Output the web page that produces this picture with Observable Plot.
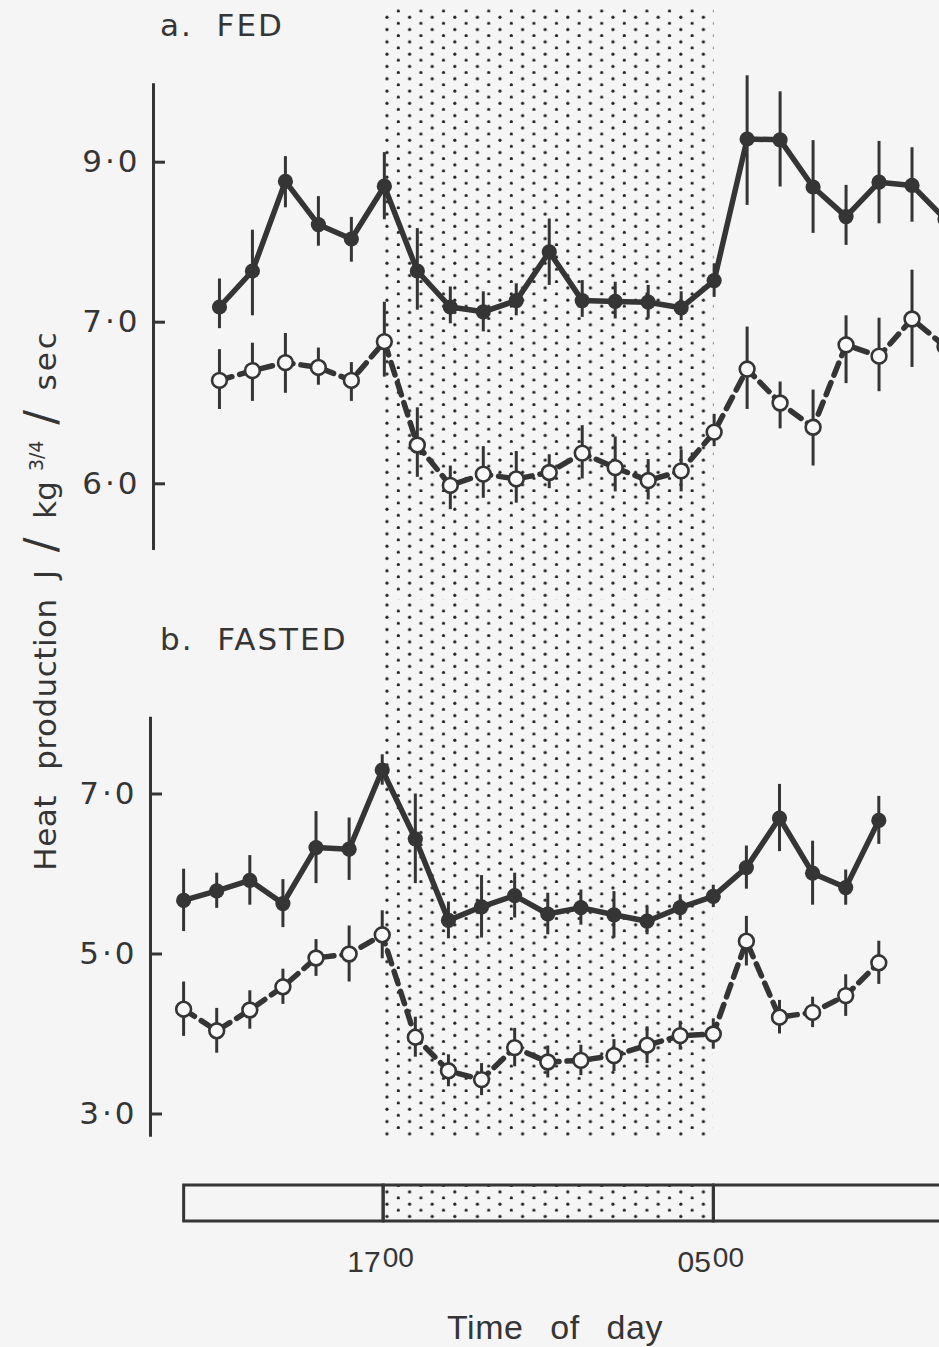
<!DOCTYPE html>
<html>
<head>
<meta charset="utf-8">
<script src="https://cdn.jsdelivr.net/npm/d3@7"></script>
<script src="https://cdn.jsdelivr.net/npm/@observablehq/plot@0.6"></script>
<style>
  body { margin: 0; background: #f5f5f5; }
  #fig { position: relative; width: 939px; height: 1347px; overflow: hidden; background: #f5f5f5; color: #353535; font-family: "DejaVu Sans", sans-serif; }
  #fig svg.plotsvg { position: absolute; left: 0; }
  .txt { position: absolute; white-space: pre; line-height: 30px; }
  .ptitle { font-size: 31px; letter-spacing: 2px; }
  #ylab { left: 40px; top: 597px; font-size: 31px; letter-spacing: 0.5px; word-spacing: 15px; transform: translate(-50%, -50%) rotate(-90deg); line-height: 44px; }
  #ylab .pc { display: inline-block; text-align: center; letter-spacing: 0; word-spacing: 0; }
  #ylab .sl { font-size: 44px; }
  #ylab .fr { font-size: 19px; vertical-align: 13px; }
  #ylab .sec { letter-spacing: 3px; }
  #xlab { left: 555px; top: 1310px; transform: translateX(-50%); font-family: "Liberation Sans", sans-serif; font-size: 34px; line-height: 34px; word-spacing: 17px; letter-spacing: 0.5px; }
</style>
</head>
<body>
<svg width="0" height="0" style="position:absolute">
  <defs>
    <pattern id="stipple" patternUnits="userSpaceOnUse" width="22.6" height="12.3">
      <circle cx="2.8" cy="5" r="1.6" fill="#222"></circle>
      <circle cx="14.1" cy="11.15" r="1.6" fill="#222"></circle>
    </pattern>
  </defs>
</svg>
<div id="fig">
  <div class="txt ptitle" style="left:160px;top:10px">a.  FED</div>
  <div class="txt ptitle" style="left:160px;top:624px">b.  FASTED</div>
  <div class="txt" id="ylab">Heat production<span class="pc" style="width:22px;margin-left:13px">J</span><span class="pc sl" style="width:37px">/</span><span class="pc" style="width:53px">kg</span><span class="pc fr" style="width:35px">3/4</span><span class="pc sl" style="width:42px">/</span><span class="pc sec" style="width:73px">sec</span></div>
  <div class="txt" id="xlab">Time of day</div>
</div>
<script>
// ---------- data ----------
// time of each sample, hours from midnight of the first day (24+ = next morning)
const aTimes = [11.0, 12.2, 13.4, 14.6, 15.8, 17.0, 18.2, 19.4, 20.6, 21.8, 23.0, 24.2, 25.4, 26.6, 27.8, 29.0, 30.2, 31.4, 32.6, 33.8, 35.0, 36.2, 37.4];
const bTimes = [9.8, 11.0, 12.2, 13.4, 14.6, 15.8, 17.0, 18.2, 19.4, 20.6, 21.8, 23.0, 24.2, 25.4, 26.6, 27.8, 29.0, 30.2, 31.4, 32.6, 33.8, 35.0];

// a. FED — filled circles (solid line)
const aFilled   = [7.19, 7.64, 8.76, 8.22, 8.04, 8.70, 7.64, 7.19, 7.13, 7.27, 7.88, 7.27, 7.26, 7.25, 7.18, 7.52, 9.29, 9.28, 8.69, 8.32, 8.75, 8.71, 8.29];
const aFilledLo = [6.96, 7.08, 8.43, 7.95, 7.75, 8.28, 7.15, 6.99, 6.94, 7.08, 7.46, 7.06, 7.04, 7.04, 7.02, 7.31, 8.46, 8.69, 8.11, 7.96, 8.23, 8.25, 7.90];
const aFilledHi = [7.54, 8.15, 9.07, 8.57, 8.31, 9.12, 8.17, 7.44, 7.38, 7.48, 8.29, 7.52, 7.50, 7.46, 7.38, 7.73, 10.08, 9.88, 9.27, 8.71, 9.26, 9.18, 8.70];
// a. FED — open circles (dashed line)
const aOpen   = [6.64, 6.70, 6.75, 6.72, 6.64, 6.88, 6.24, 5.99, 6.06, 6.03, 6.07, 6.19, 6.10, 6.02, 6.08, 6.32, 6.71, 6.50, 6.35, 6.86, 6.79, 7.04, 6.85];
const aOpenLo = [6.46, 6.51, 6.56, 6.61, 6.51, 6.66, 6.04, 5.84, 5.91, 5.88, 5.97, 6.03, 5.95, 5.90, 5.95, 6.23, 6.46, 6.34, 6.11, 6.62, 6.57, 6.72, 6.65];
const aOpenHi = [6.83, 6.87, 6.93, 6.84, 6.75, 7.25, 6.47, 6.11, 6.23, 6.20, 6.18, 6.36, 6.29, 6.15, 6.21, 6.43, 6.97, 6.63, 6.58, 7.08, 7.05, 7.65, 7.05];

// b. FASTED — filled circles (solid line) with ± error
const bFilled   = [5.67, 5.79, 5.92, 5.63, 6.33, 6.31, 7.30, 6.44, 5.42, 5.59, 5.73, 5.50, 5.58, 5.49, 5.41, 5.58, 5.72, 6.08, 6.70, 6.01, 5.83, 6.67];
const bFilledSe = [0.39, 0.22, 0.31, 0.30, 0.45, 0.39, 0.19, 0.56, 0.23, 0.39, 0.28, 0.26, 0.22, 0.29, 0.17, 0.16, 0.14, 0.27, 0.42, 0.40, 0.22, 0.30];
// b. FASTED — open circles (dashed line)
const bOpen   = [4.31, 4.04, 4.30, 4.59, 4.95, 5.00, 5.24, 3.96, 3.54, 3.43, 3.83, 3.65, 3.67, 3.73, 3.86, 3.98, 4.00, 5.16, 4.21, 4.27, 4.48, 4.89];
const bOpenSe = [0.34, 0.28, 0.24, 0.22, 0.23, 0.35, 0.30, 0.25, 0.20, 0.20, 0.24, 0.20, 0.19, 0.20, 0.23, 0.18, 0.19, 0.31, 0.21, 0.19, 0.26, 0.27];

// axis ticks & labels
const aTicks = [9, 7, 6];
const aTickLabels = ["9·0", "7·0", "6·0"];
const bTicks = [7, 5, 3];
const bTickLabels = ["7·0", "5·0", "3·0"];

// dark period (lights off) and the time bar
const nightStart = [17];
const nightEnd = [29];
const barStarts = [9.75, 17, 29];
const barEnds = [17, 29, 41];
const edgeTimes = [17, 29];
const edgeHours = ["17", "05"];
const edgeMinutes = ["00", "00"];

// ---------- styling ----------
const ink = "#353535";
const paper = "#f8f8f8";
const xDomain = [8.6, 37.2];
const W = 939;

const nights = nightStart.map((s, i) => ({start: s, end: nightEnd[i]}));
const rowsLoHi = (times, v, lo, hi) => times.map((t, i) => ({t, v: v[i], lo: lo[i], hi: hi[i]}));
const rowsSe = (times, v, se) => times.map((t, i) => ({t, v: v[i], lo: v[i] - se[i], hi: v[i] + se[i]}));

function panel({filled, open, yDomain, yRange, ticks, tickLabels, height, marginTop, marginBottom, marginLeft}) {
  return Plot.plot({
    width: W, height, marginTop, marginBottom, marginLeft, marginRight: 0,
    style: {background: "transparent", overflow: "visible", color: ink, fontFamily: "DejaVu Sans", letterSpacing: "3px"},
    x: {domain: xDomain, axis: null},
    y: {type: "linear", domain: yDomain, range: yRange, axis: null, label: null},
    marks: [
      Plot.rect(nights, {x1: "start", x2: "end", fill: "url(#stipple)"}),
      Plot.ruleX([xDomain[0]], {y1: yDomain[0], y2: yDomain[yDomain.length - 1], stroke: ink, strokeWidth: 3}),
      Plot.axisY(ticks, {anchor: "left", label: null, tickFormat: d => tickLabels[ticks.indexOf(d)], tickSize: 12, dx: 12, tickPadding: 13, fontSize: 31, strokeWidth: 3}),
      Plot.ruleX(open, {x: "t", y1: "lo", y2: "hi", stroke: ink, strokeWidth: 3}),
      Plot.line(open, {x: "t", y: "v", stroke: ink, strokeWidth: 5.5, strokeDasharray: "13,8"}),
      Plot.dot(open, {x: "t", y: "v", r: 7.4, fill: paper, stroke: ink, strokeWidth: 2.6}),
      Plot.ruleX(filled, {x: "t", y1: "lo", y2: "hi", stroke: ink, strokeWidth: 3}),
      Plot.line(filled, {x: "t", y: "v", stroke: ink, strokeWidth: 5.5}),
      Plot.dot(filled, {x: "t", y: "v", r: 7.6, fill: ink, stroke: "none"})
    ]
  });
}

const fig = document.getElementById("fig");
function place(svg, top) {
  svg.classList.add("plotsvg");
  svg.style.position = "absolute";
  svg.style.top = top + "px";
  svg.style.left = "0px";
  fig.insertBefore(svg, fig.firstChild);
}

// a. FED  (svg covers y 0..600 of the page)
const plotA = panel({
  filled: rowsLoHi(aTimes, aFilled, aFilledLo, aFilledHi),
  open: rowsLoHi(aTimes, aOpen, aOpenLo, aOpenHi),
  yDomain: [5.587, 6, 7, 9, 9.98],
  yRange: [550, 483.3, 321.7, 161.7, 83.3],
  ticks: aTicks, tickLabels: aTickLabels,
  height: 600, marginTop: 8, marginBottom: 0, marginLeft: 153
});
place(plotA, 0);

// b. FASTED (svg covers y 600..1150 of the page)
const plotB = panel({
  filled: rowsSe(bTimes, bFilled, bFilledSe),
  open: rowsSe(bTimes, bOpen, bOpenSe),
  yDomain: [2.71, 7.96],
  yRange: [536.7, 116.7],
  ticks: bTicks, tickLabels: bTickLabels,
  height: 550, marginTop: 0, marginBottom: 12, marginLeft: 150
});
place(plotB, 600);

// time bar (svg covers y 1150..1280)
const bars = barStarts.map((s, i) => ({start: s, end: barEnds[i]}));
const plotBar = Plot.plot({
  width: W, height: 130, marginTop: 35, marginBottom: 59, marginLeft: 152, marginRight: 0,
  style: {background: "transparent", overflow: "visible", color: ink},
  x: {domain: xDomain, axis: null},
  marks: [
    Plot.rect(nights, {x1: "start", x2: "end", fill: "url(#stipple)"}),
    Plot.rect(bars, {x1: "start", x2: "end", fill: "none", stroke: ink, strokeWidth: 3}),
    Plot.text(edgeTimes, {x: d => d, text: (d, i) => edgeHours[i], frameAnchor: "bottom", dy: 50, dx: -3, textAnchor: "end", fontSize: 30, fontFamily: "Liberation Sans", fill: ink}),
    Plot.text(edgeTimes, {x: d => d, text: (d, i) => edgeMinutes[i], frameAnchor: "bottom", dy: 45, dx: -1, textAnchor: "start", fontSize: 28, fontFamily: "Liberation Sans", fill: ink})
  ]
});
place(plotBar, 1150);
</script>
</body>
</html>
